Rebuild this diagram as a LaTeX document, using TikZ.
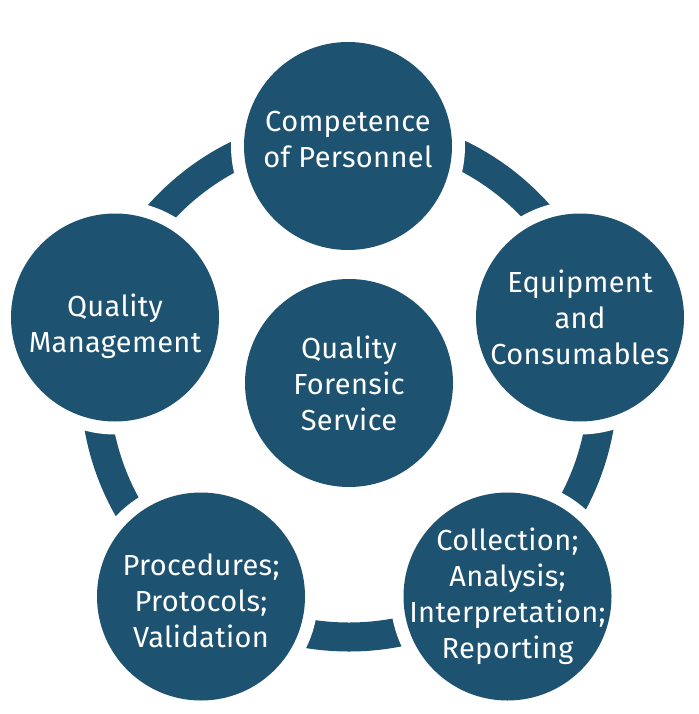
\documentclass[tikz,border=0pt]{standalone}
\usepackage{fontspec}
\setmainfont{Fira Sans}[LetterSpace=1.2]
\definecolor{qblue}{RGB}{29,82,112}
\begin{document}
\begin{tikzpicture}[x=1pt,y=-1pt,
  ring/.style={draw=qblue,line width=29pt},
  bubble/.style={circle,fill=qblue,minimum size=208pt,inner sep=0pt,
    preaction={draw=white,line width=26pt}},
  hub/.style={circle,fill=qblue,minimum size=208pt,inner sep=0pt},
  txt/.style={align=center,text=white,inner sep=0pt,
    font=\fontsize{29}{36}\selectfont}]
\useasboundingbox[fill=white] (0,0) rectangle (698,714);
\coordinate (c) at (349,383);
\draw[ring] (c) circle[radius=254pt];
\node[bubble] (top) at (348,146) {};
\node[bubble] (right) at (580,317.5) {};
\node[bubble] (br) at (507.5,596.5) {};
\node[bubble] (bl) at (201,596.5) {};
\node[bubble] (left) at (115,317.5) {};
\node[hub] (hub) at (c) {};
\node[txt] (ttop) at (348,140) {Competence\\of Personnel};
\node[txt] (tright) at (580,317) {Equipment\\and\\Consumables};
\node[txt] (tbr) at (507.5,596) {Collection;\\Analysis;\\Interpretation;\\Reporting};
\node[txt] (tbl) at (201,600.5) {Procedures;\\Protocols;\\Validation};
\node[txt] (tleft) at (115,326) {Quality\\Management};
\node[txt] (thub) at (349,383) {Quality\\Forensic\\Service};
\end{tikzpicture}
\end{document}
